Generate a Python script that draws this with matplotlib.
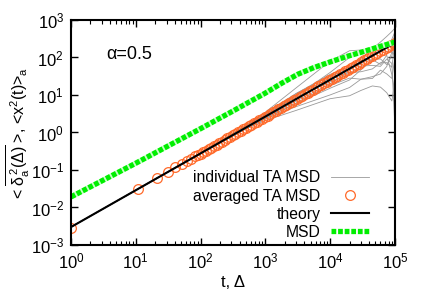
import matplotlib
matplotlib.use('Agg')
import matplotlib.pyplot as plt
from matplotlib.ticker import LogLocator, NullLocator

plt.rcParams['font.family'] = ['Liberation Sans', 'DejaVu Sans']
plt.rcParams['mathtext.fontset'] = 'custom'
plt.rcParams['mathtext.rm'] = 'Liberation Sans'
plt.rcParams['mathtext.it'] = 'Liberation Sans'
plt.rcParams['mathtext.default'] = 'regular'

# theory line (TA MSD ~ Delta)
theory_t = [1, 1e5]
theory_y = [3.0e-3, 2.44e2]

# ensemble MSD
msd_t = [1, 3.16, 10, 31.6, 100, 316, 1000, 1778, 3162, 5623, 10000, 17783, 31623, 56234, 100000]
msd_y = [0.0191, 0.0537, 0.151, 0.437, 1.26, 3.72, 11.2, 20.4, 35.5, 53.7, 75.9, 105, 141, 191, 257]

# averaged TA MSD (open circles)
avg_t = [1, 11, 21, 31, 41, 51, 61, 71, 81, 91,
         100, 110, 121, 133, 146, 161, 177, 195, 214, 236, 259, 285, 314, 345, 380, 418,
         459, 505, 556, 612, 673, 740, 814, 895, 985, 1083, 1192, 1311, 1442, 1586, 1745,
         1919, 2111, 2323, 2555, 2810, 3091, 3400, 3740, 4114, 4526, 4978, 5476, 6024,
         6626, 7289, 8018, 8820, 9702, 10672, 11739, 12913, 14204, 15625, 17187, 18906,
         20796, 22876, 25164, 27680, 30448, 33493, 36842, 40526, 44579, 49037, 53940,
         59334, 65268, 71795, 78974, 86872, 95559, 100000]
avg_y = [0.0029, 0.031, 0.060, 0.089, 0.118, 0.146, 0.173, 0.201, 0.229, 0.256,
         0.271, 0.297, 0.327, 0.358, 0.393, 0.433, 0.475, 0.523, 0.573, 0.630, 0.691,
         0.760, 0.835, 0.917, 1.008, 1.107, 1.214, 1.334, 1.467, 1.612, 1.770, 1.944,
         2.134, 2.344, 2.577, 2.827, 3.108, 3.414, 3.751, 4.116, 4.524, 4.970, 5.455,
         5.996, 6.587, 7.236, 7.942, 8.726, 9.588, 10.53, 11.56, 12.70, 13.96, 15.32,
         16.83, 18.50, 20.32, 22.30, 24.51, 26.93, 29.58, 32.47, 35.67, 39.19, 43.06,
         47.26, 51.93, 57.05, 62.69, 68.87, 75.58, 83.05, 91.24, 100.3, 110.0, 120.9,
         132.8, 145.9, 160.3, 175.9, 193.3, 212.4, 233.3, 243.9]

# individual TA MSD curves
ind_t = [1, 100, 500, 1000, 3000, 10000, 20000, 30000, 45000, 60000, 75000, 90000, 100000]
ind_1 = [0.0030, 0.275, 1.48, 3.47, 15.5, 79.4, 151, 158, 155, 163, 191, 219, 380]
ind_2 = [0.0030, 0.288, 1.52, 3.31, 11.0, 31.6, 50.1, 66.0, 123, 183, 144, 138, 479]
ind_3 = [0.0030, 0.269, 1.23, 2.08, 3.88, 7.94, 9.52, 13.2, 17.4, 16.2, 11.5, 6.92, 24.0]
ind_4 = [0.0030, 0.275, 1.26, 2.29, 4.89, 10.0, 15.8, 26.3, 27.5, 45.9, 36.4, 27.6, 95.5]
ind_5 = [0.0030, 0.275, 1.38, 2.95, 9.77, 28.1, 39.6, 41.6, 49.5, 72.5, 72.8, 54.8, 240]
ind_6 = [0.0030, 0.275, 1.29, 2.45, 5.89, 15.1, 25.1, 46.8, 87.4, 65.3, 115, 34.6, 12.0]
ind_7 = [0.0030, 0.275, 1.42, 3.09, 10.9, 35.4, 56.1, 93.3, 174, 258, 364, 491, 603]
ind_8 = [0.0030, 0.275, 1.26, 2.34, 6.14, 17.7, 28.2, 26.3, 30.8, 36.3, 57.5, 138, 120]
ind_9 = [0.0030, 0.275, 1.35, 2.82, 8.71, 22.3, 35.5, 58.5, 61.6, 58.0, 91.0, 69.3, 1.51]
ind_10 = [0.0030, 0.275, 1.29, 2.51, 6.91, 19.8, 44.6, 83.0, 87.4, 91.4, 64.6, 110, 214]
ind_11 = [0.0030, 0.275, 1.38, 2.88, 9.33, 39.7, 100, 132, 155, 163, 182, 307, 479]
ind_all = [ind_1, ind_2, ind_3, ind_4, ind_5, ind_6, ind_7, ind_8, ind_9, ind_10, ind_11]

fig = plt.figure(figsize=(4.25, 2.98), dpi=100)
ax = fig.add_axes([0.167, 0.178, 0.762, 0.755])

for k, yy in enumerate(ind_all):
    ax.plot(ind_t, yy, color='#999999', lw=0.6,
            label='individual TA MSD' if k == 0 else None)
ax.plot(avg_t, avg_y, 'o', mfc='none', mec='#ff6a2a', mew=0.9, ms=7,
        label='averaged TA MSD')
ax.plot(theory_t, theory_y, color='black', lw=1.5, label='theory')
ax.plot(msd_t, msd_y, color='#c8ffc8', lw=3.8, solid_capstyle='butt')
ax.plot(msd_t, msd_y, color='#00ee00', lw=3.8, ls=(0, (0.9, 0.35)), label='MSD')

ax.set_xscale('log')
ax.set_yscale('log')
ax.set_xlim(1, 1e5)
ax.set_ylim(1e-3, 1e3)
ax.xaxis.set_major_locator(LogLocator(base=10, numticks=10))
ax.xaxis.set_minor_locator(LogLocator(base=10, subs=range(2, 10), numticks=10))
ax.yaxis.set_major_locator(LogLocator(base=10, numticks=10))
ax.yaxis.set_minor_locator(NullLocator())
ax.tick_params(which='both', direction='in', top=True, right=True, labelsize=12, pad=5)
ax.tick_params(which='major', length=5, width=1)
ax.tick_params(which='minor', length=3, width=0.8)
for s in ax.spines.values():
    s.set_linewidth(1.5)

ax.text(0.11, 0.845, 'α=0.5', transform=ax.transAxes, fontsize=13, va='center')
ax.set_xlabel('t, Δ', fontsize=12, labelpad=2)
ax.set_ylabel(r'< $\overline{\delta_a^{\,2}(\Delta)}$ >, <x$^2$(t)>$_a$', fontsize=11.5)
ax.yaxis.set_label_coords(-0.12, 0.5)

h, l = ax.get_legend_handles_labels()
ax.legend(h, l, loc='lower right', frameon=False, markerfirst=False, fontsize=11.3,
          handlelength=2.4, labelspacing=0.2, borderaxespad=0, handletextpad=0.7,
          bbox_to_anchor=(0.94, -0.005))

fig.savefig('out.png', dpi=100)
